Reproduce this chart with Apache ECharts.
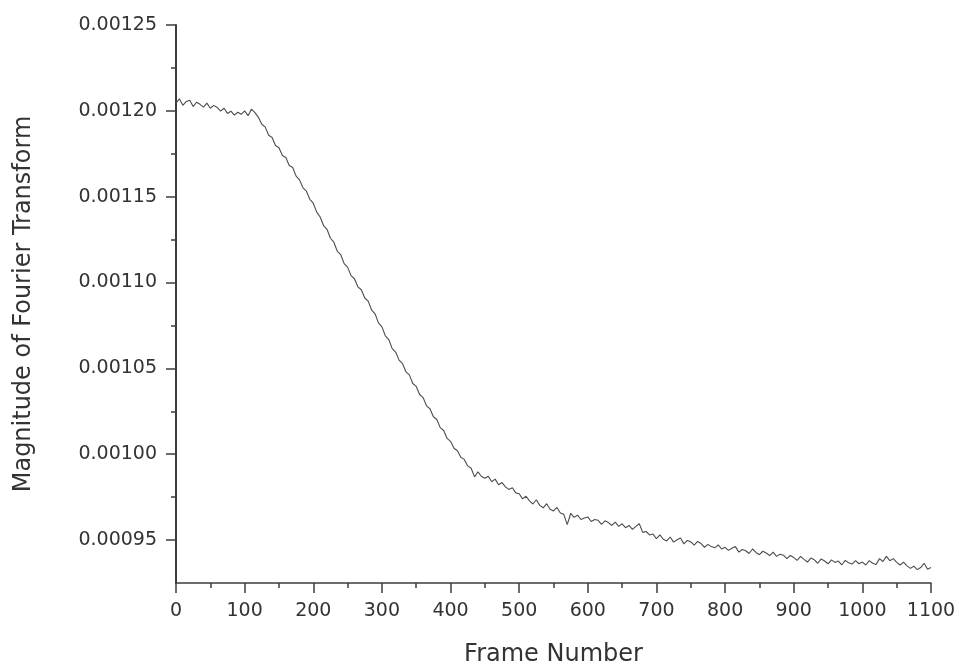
<!DOCTYPE html>
<html>
<head>
<meta charset="utf-8">
<title>Magnitude of Fourier Transform vs Frame Number</title>
<script src="https://cdn.jsdelivr.net/npm/echarts@6/dist/echarts.min.js"></script>
<style>
  html, body { margin: 0; padding: 0; background: #fff; }
  #chart { width: 962px; height: 672px; }
</style>
</head>
<body>
<div id="chart"></div>
<script>
// Sampling grid: one reading every 5 frames, from frame 0 to 1100
const FRAME_START = 0;
const FRAME_STEP = 5;

// Magnitude readings, in units of 1e-5
const magnitudeE5 = [
  // frames 0-95
  120.45, 120.70, 120.32, 120.55, 120.62, 120.25, 120.50, 120.38, 120.22, 120.45,
  120.15, 120.32, 120.20, 119.98, 120.15, 119.85, 119.98, 119.75, 119.92, 119.80,
  // frames 100-195
  120.00, 119.72, 120.10, 119.90, 119.62, 119.22, 119.05, 118.58, 118.45, 117.98,
  117.85, 117.40, 117.28, 116.82, 116.70, 116.20, 115.98, 115.52, 115.32, 114.85,
  // frames 200-295
  114.62, 114.10, 113.82, 113.32, 113.10, 112.58, 112.35, 111.82, 111.62, 111.10,
  110.90, 110.40, 110.22, 109.75, 109.58, 109.10, 108.92, 108.40, 108.18, 107.65,
  // frames 300-395
  107.42, 106.90, 106.68, 106.15, 105.95, 105.48, 105.28, 104.80, 104.62, 104.12,
  103.95, 103.48, 103.30, 102.82, 102.65, 102.18, 102.02, 101.55, 101.38, 100.92,
  // frames 400-495
  100.75, 100.35, 100.20, 99.82, 99.70, 99.32, 99.18, 98.68, 98.98, 98.70,
  98.60, 98.72, 98.40, 98.55, 98.22, 98.35, 98.10, 97.95, 98.05, 97.75,
  // frames 500-595
  97.70, 97.40, 97.55, 97.28, 97.10, 97.35, 97.02, 96.88, 97.12, 96.80,
  96.70, 96.90, 96.58, 96.50, 95.90, 96.55, 96.32, 96.45, 96.20, 96.28,
  // frames 600-695
  96.35, 96.08, 96.20, 96.15, 95.92, 96.12, 96.02, 95.85, 96.05, 95.80,
  95.95, 95.72, 95.85, 95.62, 95.80, 95.95, 95.45, 95.50, 95.30, 95.35,
  // frames 700-795
  95.08, 95.30, 95.05, 94.95, 95.18, 94.88, 95.02, 95.12, 94.78, 94.98,
  94.90, 94.70, 94.92, 94.80, 94.58, 94.75, 94.62, 94.55, 94.72, 94.48,
  // frames 800-895
  94.58, 94.40, 94.52, 94.62, 94.30, 94.45, 94.38, 94.22, 94.48, 94.28,
  94.15, 94.35, 94.25, 94.10, 94.30, 94.05, 94.18, 94.12, 93.92, 94.10,
  // frames 900-995
  93.98, 93.82, 94.05, 93.88, 93.72, 93.95, 93.85, 93.65, 93.90, 93.78,
  93.62, 93.85, 93.70, 93.78, 93.55, 93.82, 93.68, 93.60, 93.80, 93.62,
  // frames 1000-1100
  93.72, 93.55, 93.80, 93.65, 93.58, 93.92, 93.75, 94.05, 93.80, 93.92,
  93.70, 93.55, 93.72, 93.50, 93.35, 93.48, 93.28, 93.40, 93.65, 93.30,
  93.40
];

// Axis ranges and tick labels
const xRange = [0, 1100];
const yRange = [0.000925, 0.00125];
const yMajorTicks = [0.00095, 0.00100, 0.00105, 0.00110, 0.00115, 0.00120, 0.00125];
const yMinorTicks = [0.000975, 0.001025, 0.001075, 0.001125, 0.001175, 0.001225];

const seriesData = magnitudeE5.map((v, i) => [FRAME_START + i * FRAME_STEP, v * 1e-5]);

const FONT = '"DejaVu Sans", "Liberation Sans", Arial, sans-serif';
const AXIS_COLOR = '#3c3c3c';
const TEXT_COLOR = '#333';

const chart = echarts.init(document.getElementById('chart'), null, { renderer: 'canvas' });

chart.setOption({
  backgroundColor: '#ffffff',
  animation: false,
  grid: { left: 176, right: 31, top: 25, bottom: 89, containLabel: false },
  xAxis: {
    type: 'value',
    min: xRange[0],
    max: xRange[1],
    interval: 100,
    name: 'Frame Number',
    nameLocation: 'middle',
    nameGap: 60,
    nameTextStyle: { fontFamily: FONT, fontSize: 24, color: TEXT_COLOR },
    axisLine: { show: true, lineStyle: { color: AXIS_COLOR, width: 1.5 } },
    axisTick: { show: true, length: 10, lineStyle: { color: AXIS_COLOR, width: 1.5 } },
    minorTick: { show: true, splitNumber: 2, length: 5, lineStyle: { color: AXIS_COLOR, width: 1.5 } },
    axisLabel: {
      margin: 19, fontFamily: FONT, fontSize: 19, color: TEXT_COLOR,
      formatter: v => String(v)
    },
    splitLine: { show: false },
    minorSplitLine: { show: false }
  },
  yAxis: [
    {
      type: 'value',
      min: yRange[0],
      max: yRange[1],
      position: 'left',
      name: 'Magnitude of Fourier Transform',
      nameLocation: 'middle',
      nameGap: 140,
      nameRotate: 90,
      nameTextStyle: { fontFamily: FONT, fontSize: 24, color: TEXT_COLOR },
      axisLine: { show: true, lineStyle: { color: AXIS_COLOR, width: 2 } },
      axisTick: { show: true, length: 10, customValues: yMajorTicks, lineStyle: { color: AXIS_COLOR, width: 1.5 } },
      axisLabel: {
        margin: 19,
        customValues: yMajorTicks,
        fontFamily: FONT, fontSize: 19, color: TEXT_COLOR,
        formatter: v => v.toFixed(5)
      },
      splitLine: { show: false }
    },
    {
      type: 'value',
      min: yRange[0],
      max: yRange[1],
      position: 'left',
      axisLine: { show: false },
      axisTick: { show: true, length: 5, customValues: yMinorTicks, lineStyle: { color: AXIS_COLOR, width: 1.5 } },
      axisLabel: { show: false },
      splitLine: { show: false }
    }
  ],
  series: [
    {
      type: 'line',
      yAxisIndex: 0,
      data: seriesData,
      showSymbol: false,
      symbol: 'none',
      smooth: false,
      lineStyle: { color: '#4d4d4d', width: 1.1 }
    }
  ]
});
</script>
</body>
</html>
